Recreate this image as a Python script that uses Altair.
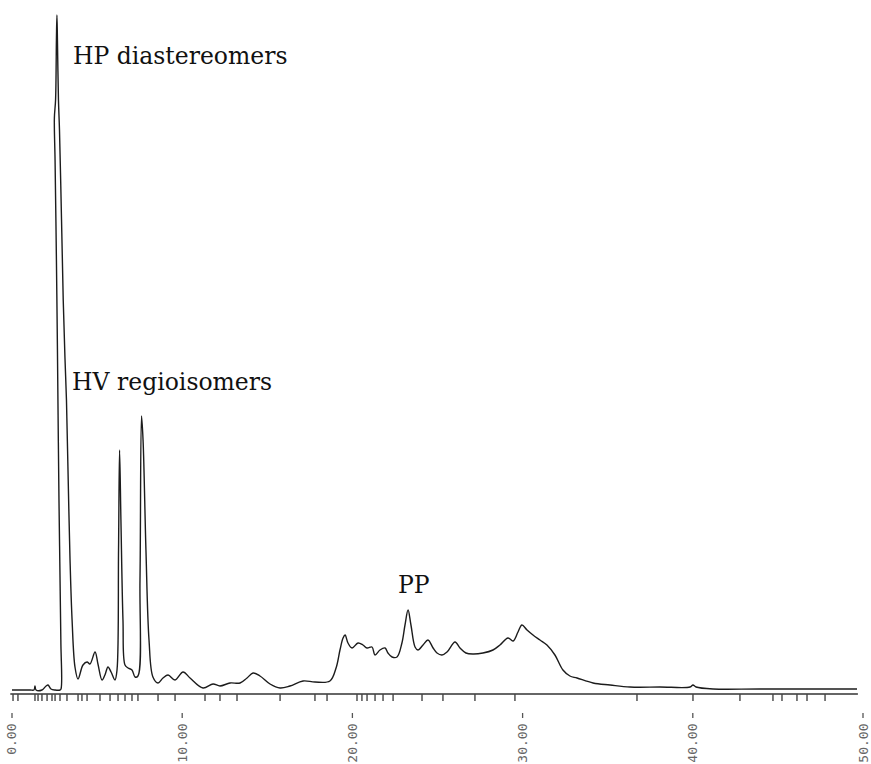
import altair as alt
import pandas as pd

# Detector trace: retention time (min) and signal height (arbitrary units)
time_min = [
    0.00, 1.06, 1.29, 1.35, 1.41, 1.76, 2.00, 2.12, 2.29, 2.53,
    2.82, 2.88, 2.87, 2.76, 2.67, 2.61, 2.53, 2.49, 2.56, 2.61,
    2.64, 2.67, 2.73, 2.79, 2.91, 3.01, 3.11, 3.20, 3.29, 3.41,
    3.53, 3.70, 3.88, 4.17, 4.41, 4.58, 4.88, 5.05, 5.29, 5.46,
    5.64, 5.82, 6.05, 6.17, 6.26, 6.32, 6.40, 6.52, 6.64, 6.82,
    7.05, 7.23, 7.40, 7.52, 7.61, 7.70, 7.87, 8.05, 8.28, 8.58,
    8.87, 9.17, 9.58, 10.05, 10.46, 11.22, 11.81, 12.22, 12.81, 13.40,
    13.81, 14.16, 14.57, 15.16, 15.75, 16.33, 17.10, 17.80, 18.68, 19.04,
    19.27, 19.45, 19.57, 19.74, 19.98, 20.33, 20.62, 20.86, 21.15, 21.33,
    21.62, 21.92, 22.09, 22.33, 22.62, 22.91, 23.09, 23.27, 23.44, 23.68,
    23.85, 24.15, 24.44, 24.74, 24.97, 25.26, 25.56, 26.03, 26.32, 26.67,
    27.09, 27.67, 28.26, 28.67, 29.14, 29.44, 29.73, 29.96, 30.26, 30.61,
    31.02, 31.43, 31.90, 32.37, 32.78, 33.20, 34.14, 35.14, 36.31, 38.07,
    39.84, 40.01, 40.19, 41.19, 43.95, 49.65,
]
signal = [
    0, 0, 0, 4, 0, 0, 4, 5, 1, 0,
    0, 1, 50, 190, 340, 430, 530, 572, 590, 650,
    675, 650, 590, 560, 470, 390, 333, 290, 220, 130,
    70, 23, 11, 25, 28, 26, 38, 26, 10, 15,
    23, 18, 10, 20, 140, 240, 170, 70, 25, 22,
    20, 13, 14, 110, 274, 250, 140, 50, 13, 7,
    12, 15, 10, 18, 12, 2, 6, 4, 7, 7,
    12, 17, 14, 6, 2, 4, 9, 8, 9, 22,
    40, 52, 55, 47, 42, 47, 45, 42, 43, 35,
    40, 42, 37, 33, 33, 47, 65, 80, 65, 43,
    40, 45, 50, 42, 37, 35, 38, 48, 42, 37,
    36, 37, 40, 45, 52, 49, 58, 65, 60, 55,
    50, 45, 35, 20, 14, 12, 7, 5, 3, 3,
    3, 5, 3, 1, 1, 1,
]

# Integrator event marks printed under the time axis (min)
event_times = [
    0.06, 0.35, 1.35, 1.53, 1.76, 2.06, 2.35, 2.53, 2.82, 3.23,
    3.88, 4.11, 4.41, 5.17, 5.76, 6.23, 6.64, 7.05, 7.40, 8.58,
    9.58, 11.34, 12.22, 13.22, 15.75, 17.80, 18.51, 20.27, 20.56, 20.86,
    21.33, 21.80, 22.39, 24.09, 25.32, 27.20, 29.55, 36.72, 40.01, 42.77,
    44.71, 45.24, 46.12, 46.71, 47.77,
]

# Labelled time ticks
tick_times = [0, 10, 20, 30, 40, 50]

# Peak group annotations
peak_names = ["HP diastereomers", "HV regioisomers", "PP"]
peak_label_time = [3.58, 3.53, 22.68]
peak_label_signal = [626, 300, 97]

# Vertical extents (signal units) of the axis line and the printed marks below it
axis_level = -4
event_mark_bottom = -11
dash_top, dash_bottom = -23, -28

trace = pd.DataFrame({"idx": range(len(time_min)), "t": time_min, "s": signal})
events = pd.DataFrame({"t": event_times, "s0": axis_level, "s1": event_mark_bottom})
ticks = pd.DataFrame({"t": tick_times, "s0": dash_top, "s1": dash_bottom})
labels = pd.DataFrame({"name": peak_names, "t": peak_label_time, "s": peak_label_signal})
axis_line = pd.DataFrame({"t0": [-0.1], "t1": [49.7], "s": [axis_level]})

x_scale = alt.Scale(domain=[-0.705, 50.47], nice=False, zero=False)
y_scale = alt.Scale(domain=[-4, 690], nice=False, zero=False)

ink = "#1c1c1c"

line = alt.Chart(trace).mark_line(
    color=ink, strokeWidth=1.4, strokeJoin="round", interpolate="catmull-rom"
).encode(
    x=alt.X(
        "t:Q",
        scale=x_scale,
        axis=alt.Axis(
            values=tick_times,
            format=".2f",
            labelAngle=270,
            labelFont="DejaVu Sans Mono",
            labelFontSize=13,
            labelColor="#666666",
            labelPadding=29,
            labelFlush=False,
            labelOverlap=False,
            ticks=False,
            domain=False,
            grid=False,
            title=None,
        ),
    ),
    y=alt.Y("s:Q", scale=y_scale, axis=None),
    order=alt.Order("idx:Q"),
)

baseline_rule = alt.Chart(axis_line).mark_rule(color="#333333", strokeWidth=1.3).encode(
    x=alt.X("t0:Q", scale=x_scale),
    x2="t1:Q",
    y=alt.Y("s:Q", scale=y_scale),
)

event_marks = alt.Chart(events).mark_rule(color="#444444", strokeWidth=1.4).encode(
    x=alt.X("t:Q", scale=x_scale),
    y=alt.Y("s0:Q", scale=y_scale),
    y2="s1:Q",
)

tick_dashes = alt.Chart(ticks).mark_rule(color="#555555", strokeWidth=1.3).encode(
    x=alt.X("t:Q", scale=x_scale),
    y=alt.Y("s0:Q", scale=y_scale),
    y2="s1:Q",
)

annotations = alt.Chart(labels).mark_text(
    align="left", baseline="alphabetic", font="DejaVu Serif", fontSize=23.5, color="#111111"
).encode(
    x=alt.X("t:Q", scale=x_scale),
    y=alt.Y("s:Q", scale=y_scale),
    text="name:N",
)

chart = alt.layer(
    line, baseline_rule, event_marks, tick_dashes, annotations
).properties(
    width=871,
    height=694,
    padding={"left": 0, "right": 0, "top": 0, "bottom": 70},
    autosize=alt.AutoSizeParams(type="none"),
    background="white",
).configure_view(stroke=None)

chart.save("out.html", embed_options={"renderer": "svg", "actions": False})
